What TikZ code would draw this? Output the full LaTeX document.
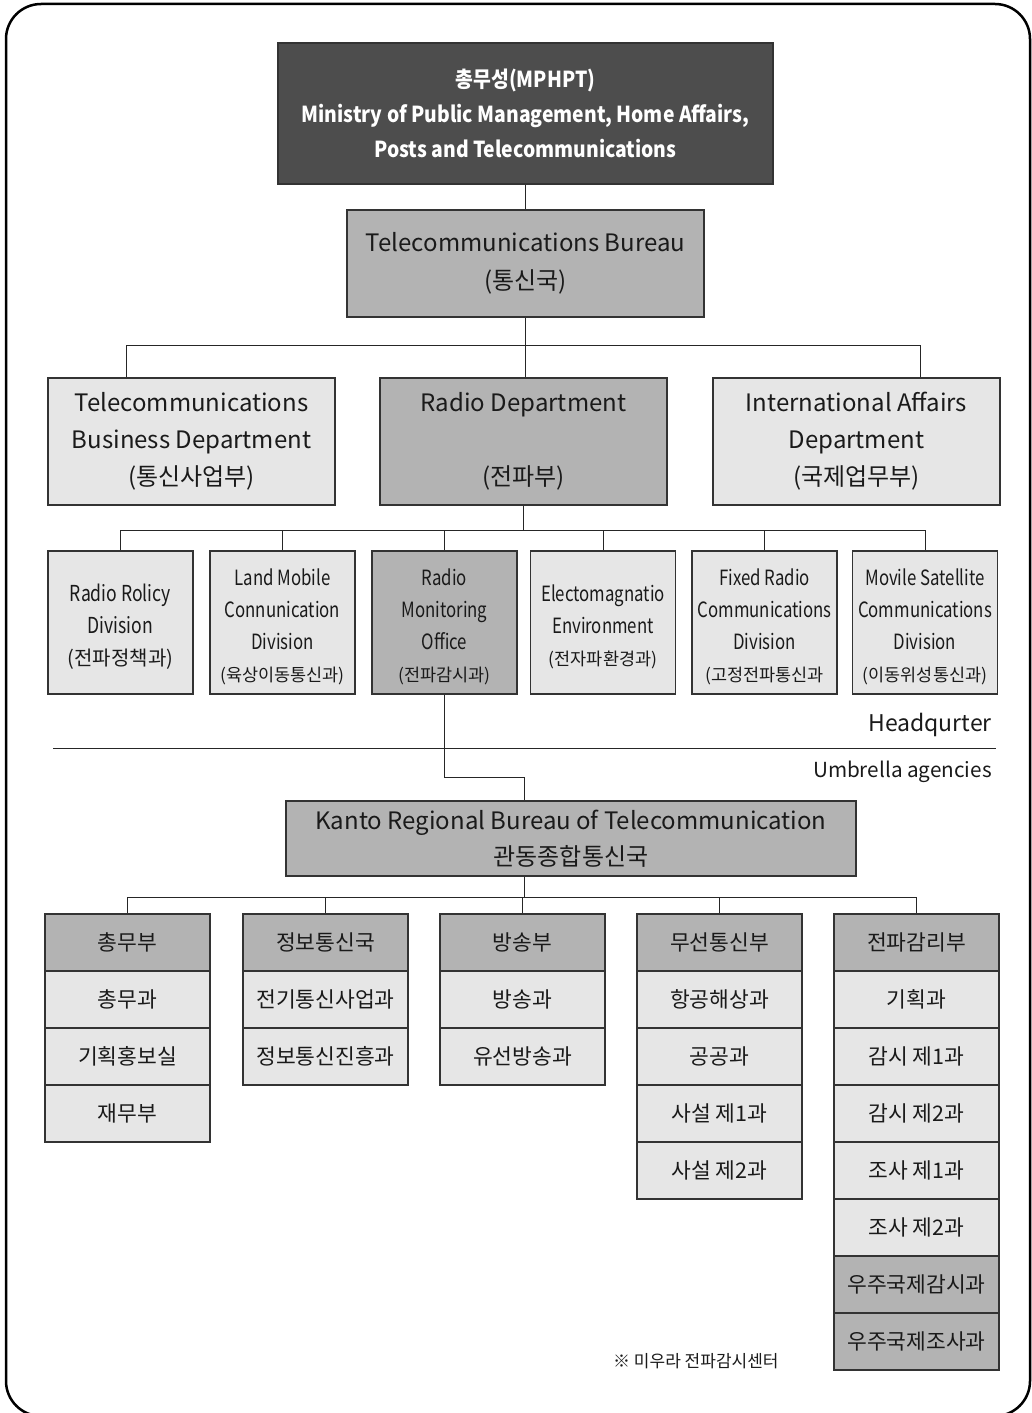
\documentclass[tikz,border=0pt]{standalone}
\usepackage{fontspec}
\setmainfont{Noto Sans CJK KR}
\newfontfamily\condfont[FakeStretch=0.8]{Noto Sans CJK KR}
\newfontfamily\topfont[FakeStretch=0.88]{Noto Sans CJK KR}
\usetikzlibrary{calc}
\definecolor{dk}{HTML}{4D4D4D}
\definecolor{md}{HTML}{B3B3B3}
\definecolor{lt}{HTML}{E6E6E6}
\definecolor{bd}{HTML}{333333}
\definecolor{tx}{HTML}{1A1A1A}
\newcommand{\fs}[2]{\fontsize{#1}{#2}\selectfont}
\newcommand{\krl}[1]{{\rmfamily\fs{17.5}{32}#1}}
\newcommand{\krlb}[1]{{\rmfamily\fs{20}{32}#1}}
\newcommand{\dn}{\rule{0pt}{26pt}}
\begin{document}
\begin{tikzpicture}[x=1pt,y=-1pt,
  box/.style={draw=bd, line width=1.2pt, inner sep=0pt, align=center, text=tx},
  conn/.style={draw=black!85, line width=1pt},
  lvltwo/.style={box, minimum width=287pt, minimum height=127pt, font=\fs{24}{37}},
  lvlthree/.style={box, minimum width=145pt, minimum height=143pt, font=\condfont\fs{21}{32}},
  cell/.style={box, minimum width=165pt, minimum height=57pt, font=\fs{21.5}{24}, fill=lt}]
\useasboundingbox (0,0) rectangle (1031,1413);
\draw[line width=2.5pt, rounded corners=35pt] (6,4) rectangle (1030,1416);

% top levels
\node[box, fill=dk, text=white, minimum width=495pt, minimum height=141pt, font=\topfont\bfseries\fs{22}{35}] (mphpt) at (525.5,113.5)
  {총무성(MPHPT)\\Ministry of Public Management, Home Affairs,\\Posts and Telecommunications};
\node[box, fill=md, minimum width=357pt, minimum height=107pt, font=\fs{24}{38}] (bureau) at (525.5,263.5)
  {Telecommunications Bureau\\(통신국)};

\node[lvltwo, fill=lt] (tbd) at (191.5,441.5) {Telecommunications\\Business Department\\(통신사업부)};
\node[lvltwo, fill=md] (rd) at (523.5,441.5) {Radio Department\\ \\(전파부)};
\node[lvltwo, fill=lt] (iad) at (856.5,441.5) {International Affairs\\Department\\(국제업무부)};

\draw[conn] (mphpt.south) -- (mphpt.south |- bureau.north);
\coordinate (bL) at (126,345);
\coordinate (bR) at (920,345);
\draw[conn] (bureau.south) -- (bureau.south |- rd.north);
\draw[conn] (bL) -- (bR);
\draw[conn] (bL) -- (bL |- tbd.north);
\draw[conn] (bR) -- (bR |- iad.north);

% level three
\node[lvlthree, fill=lt, font=\condfont\fs{22}{32}] (d1) at (120.5,622.5) {\dn Radio Rolicy\\Division\\\krlb{(전파정책과)}};
\node[lvlthree, fill=lt] (d2) at (282.5,622.5) {\dn Land Mobile\\Connunication\\Division\\\krl{(육상이동통신과)}};
\node[lvlthree, fill=md] (d3) at (444.5,622.5) {\dn Radio\\Monitoring\\Office\\\krl{(전파감시과)}};
\node[lvlthree, fill=lt] (d4) at (603,622.5) {\dn Electomagnatio\\Environment\\\krl{(전자파환경과)}};
\node[lvlthree, fill=lt] (d5) at (764.5,622.5) {\dn Fixed Radio\\Communications\\Division\\\krl{(고정전파통신과}};
\node[lvlthree, fill=lt] (d6) at (925,622.5) {\dn Movile Satellite\\Communications\\Division\\\krl{(이동위성통신과)}};

\coordinate (cM) at (523.5,530);
\draw[conn] (rd.south) -- (cM);
\draw[conn] (d1.north |- cM) -- (d6.north |- cM);
\foreach \d in {d1,d2,d3,d4,d5,d6} \draw[conn] (\d.north |- cM) -- (\d.north);

% separator
\draw[line width=1pt, black!85] (53,748) -- (996,748);
\node[anchor=east, font=\fs{23}{26}, text=tx, inner sep=0pt] (hq) at (992,725) {Headqurter};
\node[anchor=east, font=\fs{20.7}{26}, text=tx, inner sep=0pt] (ua) at (992,772) {Umbrella agencies};

% Kanto
\node[box, fill=md, minimum width=570pt, minimum height=75pt, font=\fs{24}{36}] (kanto) at (571,838.5)
  {Kanto Regional Bureau of Telecommunication\\관동종합통신국};
\coordinate (k1) at (524,777);
\draw[conn] (d3.south) |- (k1) -- (k1 |- kanto.north);

% bottom tables
\foreach \col/\x/\items in {
  1/127.5/{총무부,총무과,기획홍보실,재무부},
  2/325.5/{정보통신국,전기통신사업과,정보통신진흥과},
  3/522.5/{방송부,방송과,유선방송과},
  4/719.5/{무선통신부,항공해상과,공공과,사설 제1과,사설 제2과},
  5/916.5/{전파감리부,기획과,감시 제1과,감시 제2과,조사 제1과,조사 제2과,우주국제감시과,우주국제조사과}}{
  \foreach \t [count=\r] in \items {
    \node[cell] (c\col-\r) at (\x,{914+57*(\r-0.5)}) {\t};
  }
}
\foreach \c/\t in {1/총무부,2/정보통신국,3/방송부,4/무선통신부,5/전파감리부}
  \node[cell, fill=md] (h\c) at (c\c-1) {\t};
\node[cell, fill=md] (s7) at (c5-7) {우주국제감시과};
\node[cell, fill=md] (s8) at (c5-8) {우주국제조사과};

\coordinate (k2) at (524,897);
\draw[conn] (k1 |- kanto.south) -- (k2);
\draw[conn] (h1.north |- k2) -- (h5.north |- k2);
\foreach \c in {1,...,5} \draw[conn] (h\c.north |- k2) -- (h\c.north);

\node[anchor=west, font=\fs{17}{20}, text=tx, inner sep=0pt] (note) at (613,1361) {※ 미우라 전파감시센터};
\end{tikzpicture}
\end{document}
